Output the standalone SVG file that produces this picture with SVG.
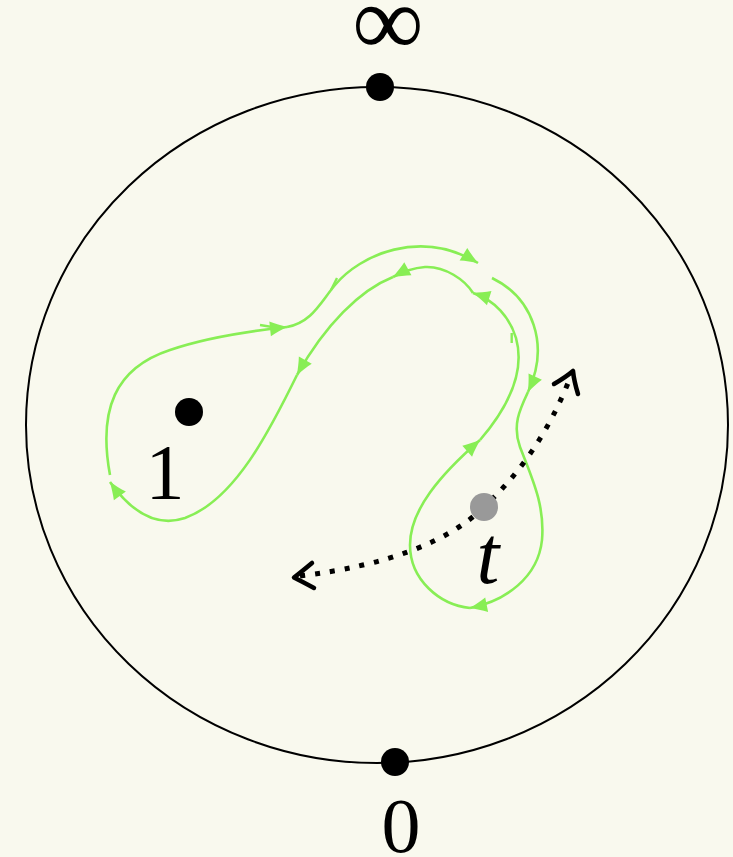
<svg xmlns="http://www.w3.org/2000/svg" width="733" height="857" viewBox="0 0 733 857">
  <style>
    .bg { fill: #f9f9ee; }
    .sphere { fill: none; stroke: #000; stroke-width: 2; }
    .pt { fill: #000; }
    .pt-t { fill: #999999; }
    .lbl { font-family: "Liberation Serif", "DejaVu Serif", serif; fill: #000; }
    .loop { fill: none; stroke: #88ee55; stroke-width: 2.6; marker-end: url(#ah); }
    .tick { fill: none; stroke: #88ee55; stroke-width: 2.4; }
    .dots { fill: none; stroke: #000; stroke-width: 5; stroke-dasharray: 5 10; }
    .chev { fill: none; stroke: #000; stroke-width: 4.5; stroke-linecap: round; stroke-linejoin: round; }
  </style>
  <defs>
    <marker id="ah" markerUnits="userSpaceOnUse" markerWidth="22" markerHeight="18" viewBox="-19 -9 22 18" refX="0" refY="0" orient="auto">
      <path d="M0,0 C-5,-2 -12,-4.6 -17,-7.4 L-17,7.4 C-12,4.6 -5,2 0,0 z" fill="#88ee55"/>
    </marker>
  </defs>
  <rect class="bg" x="0" y="0" width="733" height="857"/>

  <g id="sphere">
    <ellipse class="sphere" cx="377" cy="425" rx="351" ry="338"/>
  </g>

  <g id="connectors">
    <g id="green-loop">
      <path class="loop" d="M 110 475 C 98 410, 115 368, 170 350 C 205 338, 250 331, 287 327"/>
      <path class="loop" d="M 287 327 C 312 322, 320 303, 335 285 C 360 255, 420 228, 478 263"/>
      <path class="loop" d="M 492 278 C 533 298, 550 345, 528 392"/>
      <path class="loop" d="M 528 392 C 520 409, 512 425, 520 447 C 532 478, 545 505, 542 540 C 538 578, 505 601, 470 608"/>
      <path class="loop" d="M 470 608 C 440 605, 410 580, 410 545 C 410 510, 440 475, 480 440"/>
      <path class="loop" d="M 480 440 C 510 405, 525 370, 516 338 C 510 318, 495 300, 473 293"/>
      <path class="loop" d="M 473 293 C 465 280, 445 266, 425 267 C 413 268, 402 272, 393 277"/>
      <path class="loop" d="M 393 277 C 360 290, 325 325, 297 375"/>
      <path class="loop" d="M 297 375 C 270 430, 235 500, 185 518 C 155 528, 130 510, 110 482"/>
      <path class="tick" d="M 337 278 L 331 290"/>
      <path class="tick" d="M 511.7 333 L 511.7 343"/>
      <path class="tick" d="M 260 325 L 272 327"/>
    </g>
    <g id="dotted-arrow">
      <path class="dots" d="M 300 576 Q 430 560 484 507 Q 540 455 570 378"/>
      <path class="chev" d="M 312 563 Q 300 573 294 577.5 Q 301 581 314 588"/>
      <path class="chev" d="M 554 384 Q 566 377 573 371 Q 574 381 578 394"/>
    </g>
  </g>

  <g id="point-infinity">
    <circle class="pt" cx="380" cy="87" r="14"/>
    <text class="lbl" x="388" y="55" font-size="100" text-anchor="middle">∞</text>
  </g>
  <g id="point-zero">
    <circle class="pt" cx="395" cy="762" r="14"/>
    <text class="lbl" x="401" y="852" font-size="78" text-anchor="middle">0</text>
  </g>
  <g id="point-one">
    <circle class="pt" cx="189" cy="412" r="14"/>
    <text class="lbl" x="165" y="498" font-size="78" text-anchor="middle">1</text>
  </g>
  <g id="point-t">
    <circle class="pt-t" cx="484" cy="507" r="14"/>
    <text class="lbl" x="488" y="583" font-size="82" font-style="italic" text-anchor="middle">t</text>
  </g>
</svg>
